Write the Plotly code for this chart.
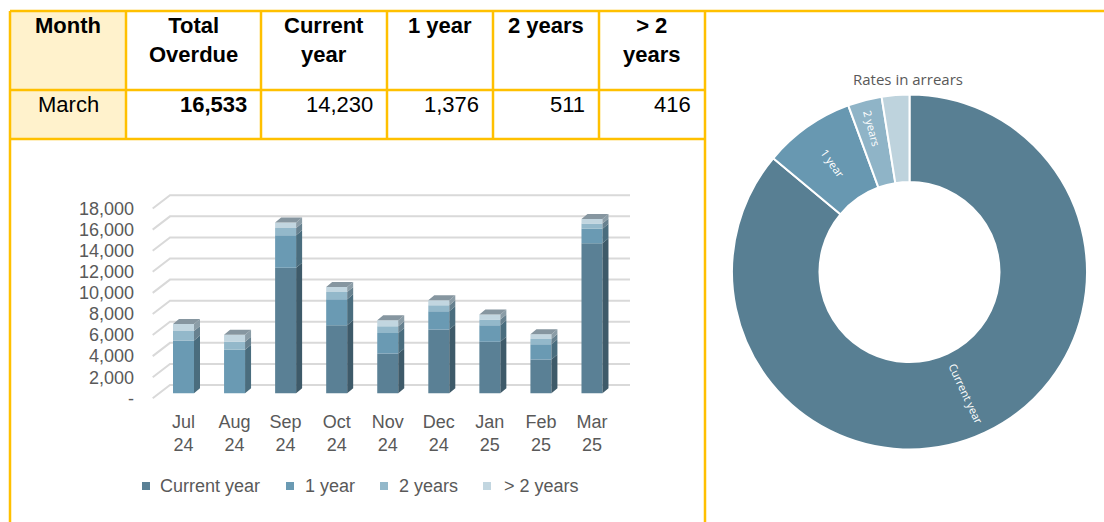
import math
import plotly.graph_objects as go

W, H = 1104, 522

# ---------------- data ----------------
months = ["Jul<br>24", "Aug<br>24", "Sep<br>24", "Oct<br>24", "Nov<br>24",
          "Dec<br>24", "Jan<br>25", "Feb<br>25", "Mar<br>25"]
series_names = ["Current year", "1 year", "2 years", "> 2 years"]
current_year = [0, 0, 11910, 6460, 3780, 6050, 4880, 3210, 14230]
one_year = [5010, 4130, 3080, 2460, 1950, 1730, 1580, 1450, 1376]
two_years = [910, 760, 700, 690, 630, 570, 540, 500, 511]
over_two_years = [660, 660, 520, 470, 570, 470, 470, 440, 416]
y_tick_values = [0, 2000, 4000, 6000, 8000, 10000, 12000, 14000, 16000, 18000]
y_tick_labels = ["-", "2,000", "4,000", "6,000", "8,000", "10,000",
                 "12,000", "14,000", "16,000", "18,000"]

table_headers = ["Month", "Total<br>Overdue", "Current<br>year", "1 year", "2 years", "> 2<br>years"]
table_row = ["March", "16,533", "14,230", "1,376", "511", "416"]

donut_title = "Rates in arrears"
donut_labels = ["Current year", "1 year", "2 years", "> 2 years"]
donut_values = [14230, 1376, 511, 416]
donut_text = ["", "1 year", "2 years", ""]

# ---------------- styles ----------------
front_colors = ["#5a8095", "#6a9ab3", "#93b8ca", "#c2d6e0"]
side_colors = ["#3e5a69", "#4a6d7e", "#67818f", "#8b9da7"]
top_color = "#8696a0"
donut_colors = ["#587f93", "#6898b1", "#8fb4c7", "#bed3dd"]
YELLOW = "#FFC000"
GREY_TXT = "#595959"
AX_FONT = "Liberation Sans, Arial, sans-serif"
PIE_FONT = "Open Sans, sans-serif"


def fx(px):
    return px / W


def fy(py):
    return 1 - py / H


# bar-chart geometry (pixel calibration)
X0_PX, X_STEP = 183.5, 51.06
Y0_PX, K = 398.3, 0.01054
DOM_L, DOM_R, DOM_T, DOM_B = 135, 660, 180, 408.5
x_range = [(DOM_L - X0_PX) / X_STEP, (DOM_R - X0_PX) / X_STEP]
y_range = [(Y0_PX - DOM_B) / K, (Y0_PX - DOM_T) / K]
bar_w = 21 / X_STEP
depth_dx = 6 / X_STEP
depth_dy = 5 / K
base_off = 5 / K
grid_front_x = (152.7 - X0_PX) / X_STEP
grid_back_x = (170 - X0_PX) / X_STEP
grid_right_x = (630 - X0_PX) / X_STEP
grid_back_dy = 13.3 / K

fig = go.Figure()
shapes = []
annotations = []

# gridlines (perspective floor lines), drawn below the bars
for v in y_tick_values:
    path = (f"M{grid_front_x},{v} L{grid_back_x},{v + grid_back_dy} "
            f"L{grid_right_x},{v + grid_back_dy}")
    shapes.append(dict(type="path", xref="x", yref="y", path=path, layer="below",
                       line=dict(color="#d9d9d9", width=2)))

series = [current_year, one_year, two_years, over_two_years]
xs = list(range(len(months)))
cum = [base_off] * len(months)
for si, vals in enumerate(series):
    bases = cum[:]
    fig.add_trace(go.Bar(x=xs, y=vals, base=bases, width=bar_w, name=series_names[si],
                         marker=dict(color=front_colors[si], line=dict(width=0)),
                         showlegend=False, hoverinfo="skip"))
    sx, sy = [], []
    for i, v in enumerate(vals):
        if v <= 0:
            continue
        xr = i + bar_w / 2
        b, t = bases[i], bases[i] + v
        sx += [xr, xr + depth_dx, xr + depth_dx, xr, xr, None]
        sy += [b, b + depth_dy, t + depth_dy, t, b, None]
    fig.add_trace(go.Scatter(x=sx, y=sy, mode="lines", fill="toself",
                             fillcolor=side_colors[si], line=dict(width=0),
                             hoverinfo="skip", showlegend=False))
    cum = [c + v for c, v in zip(cum, vals)]

tx, ty = [], []
for i, t in enumerate(cum):
    xl, xr = i - bar_w / 2, i + bar_w / 2
    tx += [xl, xl + depth_dx, xr + depth_dx, xr, xl, None]
    ty += [t, t + depth_dy, t + depth_dy, t, t, None]
fig.add_trace(go.Scatter(x=tx, y=ty, mode="lines", fill="toself", fillcolor=top_color,
                         line=dict(width=0), hoverinfo="skip", showlegend=False))

# donut
PIE_CX, PIE_CY, PIE_R = 909.5, 272, 177.5
PIE_HOLE = 0.507
fig.add_trace(go.Pie(values=donut_values, labels=donut_labels, text=donut_text,
                     textinfo="text", insidetextorientation="radial", hole=PIE_HOLE,
                     sort=False, direction="clockwise", rotation=0,
                     marker=dict(colors=donut_colors, line=dict(color="white", width=2)),
                     textfont=dict(color="white", size=11, family=PIE_FONT),
                     domain=dict(x=[fx(PIE_CX - PIE_R), fx(PIE_CX + PIE_R)],
                                 y=[fy(PIE_CY + PIE_R), fy(PIE_CY - PIE_R)]),
                     showlegend=False, hoverinfo="label+value"))

# radial label for the large slice, at the slice's mid-angle
total = sum(donut_values)
mid_deg = donut_values[0] / total * 360 / 2
r_mid = PIE_R * (1 + PIE_HOLE) / 2
lx = PIE_CX + r_mid * math.sin(math.radians(mid_deg))
ly = PIE_CY - r_mid * math.cos(math.radians(mid_deg))
annotations.append(dict(xref="paper", yref="paper", x=fx(lx), y=fy(ly), showarrow=False,
                        xanchor="center", yanchor="middle",
                        text=donut_labels[0], textangle=mid_deg - 90,
                        font=dict(family=PIE_FONT, size=11, color="white")))

fig.update_layout(
    width=W, height=H, margin=dict(l=0, r=0, t=0, b=0),
    paper_bgcolor="white", plot_bgcolor="white",
    barmode="overlay", showlegend=False,
    xaxis=dict(domain=[fx(DOM_L), fx(DOM_R)], range=x_range, tickvals=xs, ticktext=months,
               showgrid=False, zeroline=False, showline=False, ticks="",
               tickfont=dict(family=AX_FONT, size=18, color=GREY_TXT)),
    yaxis=dict(domain=[fy(DOM_B), fy(DOM_T)], range=y_range, tickvals=y_tick_values,
               ticktext=y_tick_labels, showgrid=False, zeroline=False, showline=False,
               ticks="", tickfont=dict(family=AX_FONT, size=18, color=GREY_TXT)),
)

# table background for Month column
shapes.append(dict(type="rect", xref="paper", yref="paper", x0=fx(10), x1=fx(126),
                   y0=fy(139), y1=fy(11), fillcolor="#FFF2CC", line=dict(width=0), layer="below"))


def hline(x0, x1, y):
    shapes.append(dict(type="line", xref="paper", yref="paper", x0=fx(x0), x1=fx(x1),
                       y0=fy(y), y1=fy(y), line=dict(color=YELLOW, width=2.5)))


def vline(x, y0, y1):
    shapes.append(dict(type="line", xref="paper", yref="paper", x0=fx(x), x1=fx(x),
                       y0=fy(y0), y1=fy(y1), line=dict(color=YELLOW, width=2.5)))


hline(10, 1104, 11)
hline(10, 705, 90)
hline(10, 705, 139)
vline(10, 11, 522)
vline(705, 11, 522)
col_edges = [10, 126, 261, 387, 493, 599, 705]
for xe in col_edges[1:-1]:
    vline(xe, 11, 139)

TBL_FONT = "Liberation Sans, Arial, sans-serif"
for ci, htxt in enumerate(table_headers):
    cx = (col_edges[ci] + col_edges[ci + 1]) / 2
    annotations.append(dict(xref="paper", yref="paper", x=fx(cx), y=fy(11), xanchor="center",
                            yanchor="top", showarrow=False, text="<b>" + htxt + "</b>",
                            font=dict(family=TBL_FONT, size=22, color="black")))
for ci, vtxt in enumerate(table_row):
    if ci == 0:
        cx = (col_edges[0] + col_edges[1]) / 2
        annotations.append(dict(xref="paper", yref="paper", x=fx(cx), y=fy(90), xanchor="center",
                                yanchor="top", showarrow=False, text=vtxt,
                                font=dict(family=TBL_FONT, size=22, color="black")))
    else:
        txt = "<b>" + vtxt + "</b>" if ci == 1 else vtxt
        annotations.append(dict(xref="paper", yref="paper", x=fx(col_edges[ci + 1] - 12), y=fy(90),
                                xanchor="right", yanchor="top", showarrow=False, text=txt,
                                font=dict(family=TBL_FONT, size=22, color="black")))

# legend (manual)
leg_sq_x = [146, 290, 384, 487]
leg_txt_x = [158, 303, 397, 502]
for si, name in enumerate(series_names):
    shapes.append(dict(type="rect", xref="paper", yref="paper",
                       x0=fx(leg_sq_x[si] - 4), x1=fx(leg_sq_x[si] + 4),
                       y0=fy(490), y1=fy(482), fillcolor=front_colors[si], line=dict(width=0)))
    annotations.append(dict(xref="paper", yref="paper", x=fx(leg_txt_x[si]), y=fy(486),
                            xanchor="left", yanchor="middle", showarrow=False, text=name,
                            font=dict(family=AX_FONT, size=18, color=GREY_TXT)))

annotations.append(dict(xref="paper", yref="paper", x=fx(908), y=fy(79), xanchor="center",
                        yanchor="middle", showarrow=False, text=donut_title,
                        font=dict(family=PIE_FONT, size=15, color=GREY_TXT)))

fig.update_layout(shapes=shapes, annotations=annotations)
fig.write_html("out.html", config={"displayModeBar": False},
               post_script="document.body.style.margin='0';")
